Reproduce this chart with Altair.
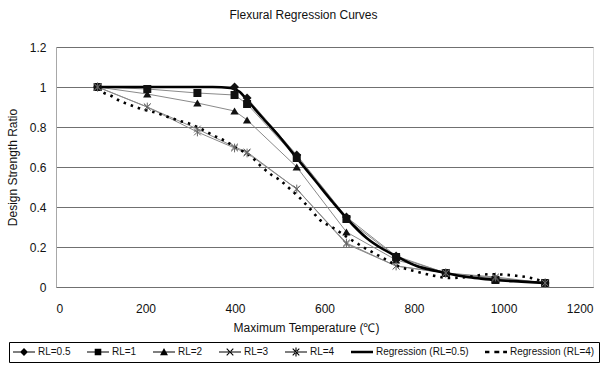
import altair as alt
import pandas as pd

# ---------------- data ----------------
temps = [93, 204, 316, 399, 427, 538, 649, 760, 871, 982, 1093]
rl05 = [1.0, None, None, 1.0, 0.945, 0.66, 0.35, 0.155, 0.07, 0.04, 0.02]
rl1 = [1.0, 0.99, 0.97, 0.96, 0.915, 0.645, 0.34, 0.15, 0.07, 0.035, 0.02]
rl2 = [1.0, 0.965, 0.92, 0.88, 0.835, 0.60, 0.275, 0.135, 0.07, 0.04, 0.02]
rl3 = [1.0, 0.90, 0.79, 0.70, 0.675, 0.49, 0.215, 0.105, 0.07, 0.045, 0.02]
rl4 = [1.0, 0.90, 0.775, 0.695, 0.67, 0.49, 0.22, 0.105, 0.07, 0.05, 0.02]
series_names = ["RL=0.5", "RL=1", "RL=2", "RL=3", "RL=4"]

reg05_t = [93, 150, 200, 250, 300, 350, 390, 411, 427, 460, 500, 538, 580, 620, 649,
           694, 730, 760, 806, 850, 870, 918, 950, 982, 1040, 1093]
reg05_v = [1.0, 1.0, 1.0, 1.0, 1.0, 1.0, 0.995, 0.975, 0.935, 0.85, 0.75, 0.645, 0.53,
           0.42, 0.345, 0.245, 0.19, 0.155, 0.105, 0.08, 0.07, 0.05, 0.042, 0.035, 0.027, 0.02]
reg4_t = [93, 105, 124, 139, 156, 172, 191, 225, 244, 261, 277, 294, 329, 359, 378, 400,
          437, 460, 482, 500, 523, 545, 568, 590, 620, 650, 694, 731, 769, 806, 843, 880,
          918, 970, 1029, 1066, 1088]
reg4_v = [0.995, 0.973, 0.955, 0.935, 0.918, 0.905, 0.89, 0.87, 0.855, 0.842, 0.83, 0.82,
          0.785, 0.75, 0.73, 0.70, 0.65, 0.60, 0.56, 0.535, 0.49, 0.445, 0.39, 0.335, 0.295,
          0.25, 0.19, 0.145, 0.10, 0.077, 0.057, 0.045, 0.05, 0.064, 0.056, 0.043, 0.027]
reg_names = ["Regression (RL=0.5)", "Regression (RL=4)"]
legend_names = series_names + reg_names

x_ticks = [0, 200, 400, 600, 800, 1000, 1200]
y_ticks = [0, 0.2, 0.4, 0.6, 0.8, 1.0, 1.2]

# ---------------- tables ----------------
rows = []
for name, vals in zip(series_names, [rl05, rl1, rl2, rl3, rl4]):
    for t, v in zip(temps, vals):
        if v is not None:
            rows.append({"series": name, "temp": t, "ratio": v})
df = pd.DataFrame(rows)

reg_rows = []
for name, ts, vs in zip(reg_names, [reg05_t, reg4_t], [reg05_v, reg4_v]):
    for t, v in zip(ts, vs):
        reg_rows.append({"series": name, "temp": t, "ratio": v})
reg = pd.DataFrame(reg_rows)

leg_df = pd.DataFrame({"series": legend_names})

FONT = "Liberation Sans"

x_enc = alt.X("temp:Q",
              scale=alt.Scale(domain=[0, 1200], nice=False, zero=False),
              axis=alt.Axis(values=x_ticks, format="d", title="Maximum Temperature (℃)",
                            grid=False, ticks=False, tickSize=0, labelPadding=16,
                            labelFontSize=12, labelColor="#111", labelFont=FONT,
                            domainColor="#707070", titleFontSize=12, titleFont=FONT,
                            titleFontWeight="normal", titleColor="#111",
                            titleX=250, titleY=40, titleBaseline="middle", titleAlign="center"))
y_enc = alt.Y("ratio:Q",
              scale=alt.Scale(domain=[0, 1.2], nice=False),
              axis=alt.Axis(values=y_ticks, format="~g", title="Design Strength Ratio",
                            grid=True, gridColor="#707070", gridWidth=1,
                            ticks=False, tickSize=0, labelPadding=10,
                            labelFontSize=12, labelColor="#111", labelFont=FONT,
                            domainColor="#a8a8a8", titleFontSize=12, titleFont=FONT,
                            titleFontWeight="normal", titleColor="#111",
                            titleAngle=270, titleX=-44, titleY=120,
                            titleBaseline="middle", titleAlign="center"))

base = alt.Chart(df)

series_lines = base.mark_line(color="#8a8a8a", strokeWidth=1).encode(
    x=x_enc, y=y_enc, detail="series:N", order="temp:Q")

reg_solid = alt.Chart(reg).transform_filter(
    alt.datum.series == reg_names[0]
).mark_line(color="#000", strokeWidth=2.6, interpolate="monotone").encode(
    x=x_enc, y=y_enc, order="temp:Q")

reg_dot = alt.Chart(reg).transform_filter(
    alt.datum.series == reg_names[1]
).mark_line(color="#000", strokeWidth=2.6, strokeDash=[2.5, 5], strokeCap="butt",
            interpolate="monotone").encode(x=x_enc, y=y_enc, order="temp:Q")


def pts(name, **kw):
    return base.transform_filter(alt.datum.series == name).mark_point(opacity=1, **kw).encode(
        x=x_enc, y=y_enc)


X_PATH = "M-1,-1L1,1M-1,1L1,-1"
AST_PATH = "M-1,-1L1,1M-1,1L1,-1M0,-1.3V1.3"

p05 = pts("RL=0.5", shape="diamond", filled=True, color="#111", size=80)
p1 = pts("RL=1", shape="square", filled=True, color="#111", size=64)
p2 = pts("RL=2", shape="triangle-up", filled=True, color="#111", size=70)
p3 = pts("RL=3", shape=X_PATH, filled=False, color="#666", size=45, strokeWidth=1)
p4 = pts("RL=4", shape=AST_PATH, filled=False, color="#666", size=45, strokeWidth=1)

# legend symbols (filled outlines): a short line with the marker on it
LINE = "M-1,-0.05H1V0.05H-1Z"
XMARK = ("M-0.265,-0.335L0.335,0.265L0.265,0.335L-0.335,-0.265Z"
         "M-0.265,0.335L0.335,-0.265L0.265,-0.335L-0.335,0.265Z")
legend_paths = [
    LINE + "M0,-0.36L0.36,0L0,0.36L-0.36,0Z",
    LINE + "M-0.3,-0.3H0.3V0.3H-0.3Z",
    LINE + "M0,-0.36L0.36,0.3H-0.36Z",
    LINE + XMARK,
    LINE + XMARK + "M-0.05,-0.4H0.05V0.4H-0.05Z",
    "M-1.9,-0.11H1V0.11H-1.9Z",
    "M-1.9,-0.11H-1.5V0.11H-1.9ZM-1.05,-0.11H-0.6V0.11H-1.05Z"
    "M-0.15,-0.11H0.3V0.11H-0.15ZM0.65,-0.11H1V0.11H0.65Z",
]

legend_layer = alt.Chart(leg_df).transform_filter("false").mark_point(
    filled=True, fill="#000", stroke="#000", strokeWidth=1, opacity=1
).encode(
    shape=alt.Shape("series:N",
                    scale=alt.Scale(domain=legend_names, range=legend_paths),
                    legend=alt.Legend(title=None, orient="none", direction="horizontal",
                                      columns=7, gridAlign="none", legendX=-47, legendY=295,
                                      symbolSize=484, symbolOffset=0, labelOffset=3,
                                      clipHeight=12,
                                      symbolFillColor="#000", symbolStrokeColor="#000",
                                      symbolStrokeWidth=0, symbolOpacity=1,
                                      labelFontSize=10, labelFont=FONT, labelColor="#111",
                                      columnPadding=16, padding=4,
                                      strokeColor="#000", fillColor="#fff"))
)

chart = alt.layer(
    series_lines, reg_solid, reg_dot, p05, p1, p2, p3, p4, legend_layer
).properties(
    width=537, height=240,
    padding={"left": 56, "top": 47, "right": 14, "bottom": 80},
    autosize=alt.AutoSizeParams(type="none"),
    title=alt.Title("Flexural Regression Curves", fontSize=12, fontWeight="normal",
                    font=FONT, color="#111", anchor="middle", dx=-21, offset=10,
                    baseline="alphabetic"),
).configure_view(stroke="#707070", strokeWidth=1).configure(background="white")

chart.save("out.html", embed_options={"renderer": "svg", "actions": False})
